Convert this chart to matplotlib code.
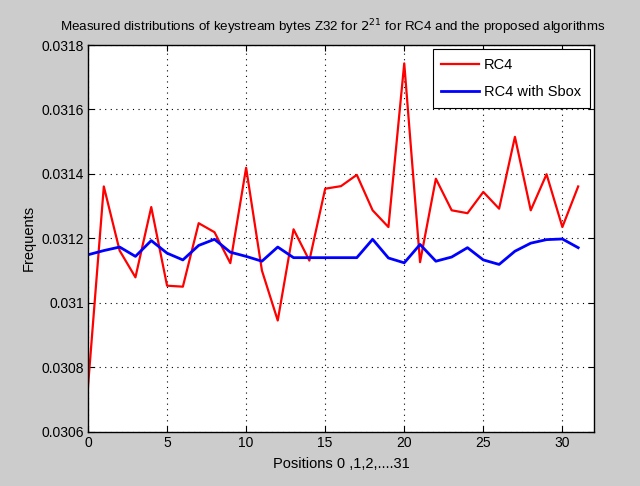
import matplotlib
matplotlib.use("Agg")
import matplotlib.pyplot as plt
from matplotlib import font_manager

fams = {f.name for f in font_manager.fontManager.ttflist}
font = "Liberation Sans Narrow" if "Liberation Sans Narrow" in fams else "Liberation Sans"
plt.rcParams['font.family'] = [font, 'DejaVu Sans']

positions = list(range(32))
rc4 = [0.03074, 0.031361, 0.031162, 0.031079, 0.031297, 0.031053, 0.031050, 0.031247,
       0.031219, 0.031123, 0.031419, 0.031100, 0.030945, 0.031228, 0.031131, 0.031354,
       0.031362, 0.031397, 0.031287, 0.031235, 0.031743, 0.031126, 0.031385, 0.031287,
       0.031278, 0.031344, 0.031292, 0.031515, 0.031287, 0.031399, 0.031235, 0.031361]
rc4_sbox = [0.031149, 0.031162, 0.031173, 0.031144, 0.031193, 0.031154, 0.031133, 0.031178,
            0.031197, 0.031157, 0.031144, 0.031129, 0.031173, 0.031140, 0.031140, 0.031140,
            0.031140, 0.031140, 0.031197, 0.031139, 0.031124, 0.031181, 0.031129, 0.031142,
            0.031171, 0.031133, 0.031119, 0.031160, 0.031185, 0.031196, 0.031198, 0.031171]
xticks = [0, 5, 10, 15, 20, 25, 30]
yticks = [0.0306, 0.0308, 0.031, 0.0312, 0.0314, 0.0316, 0.0318]
ytick_labels = ["0.0306", "0.0308", "0.031", "0.0312", "0.0314", "0.0316", "0.0318"]

fig = plt.figure(figsize=(6.4, 4.86), dpi=100, facecolor="#cccccc")
ax = fig.add_axes([0.1375, 0.1118, 0.7906, 0.7956])
ax.set_facecolor("white")
ax.plot(positions, rc4, color="red", lw=1.6, label="RC4")
ax.plot(positions, rc4_sbox, color="blue", lw=2.0, label="RC4 with Sbox")
ax.set_xlim(0, 32)
ax.set_ylim(0.0306, 0.0318)
ax.set_xticks(xticks)
ax.set_yticks(yticks)
ax.set_yticklabels(ytick_labels)
ax.grid(True, color="black", linestyle=(0, (1, 4)), linewidth=0.8)
ax.tick_params(direction="in", top=True, right=True, labelsize=10, length=4, pad=3)
for s in ax.spines.values():
    s.set_linewidth(1.0)
ax.set_title("Measured distributions of keystream bytes Z32 for $2^{21}$ for RC4 and the proposed algorithms",
             fontsize=9.6, pad=10, x=0.484)
ax.set_xlabel("Positions 0 ,1,2,....31", fontsize=10.5, labelpad=5)
ax.set_ylabel("Frequents", fontsize=10.5, labelpad=4)
leg = ax.legend(loc="upper right", fontsize=10.5, fancybox=False, framealpha=1,
                edgecolor="black", handlelength=2.6, borderaxespad=0.3,
                labelspacing=0.9, handletextpad=0.3, borderpad=0.6)
leg.get_frame().set_linewidth(0.8)
fig.savefig("out.png", dpi=100, facecolor=fig.get_facecolor())
